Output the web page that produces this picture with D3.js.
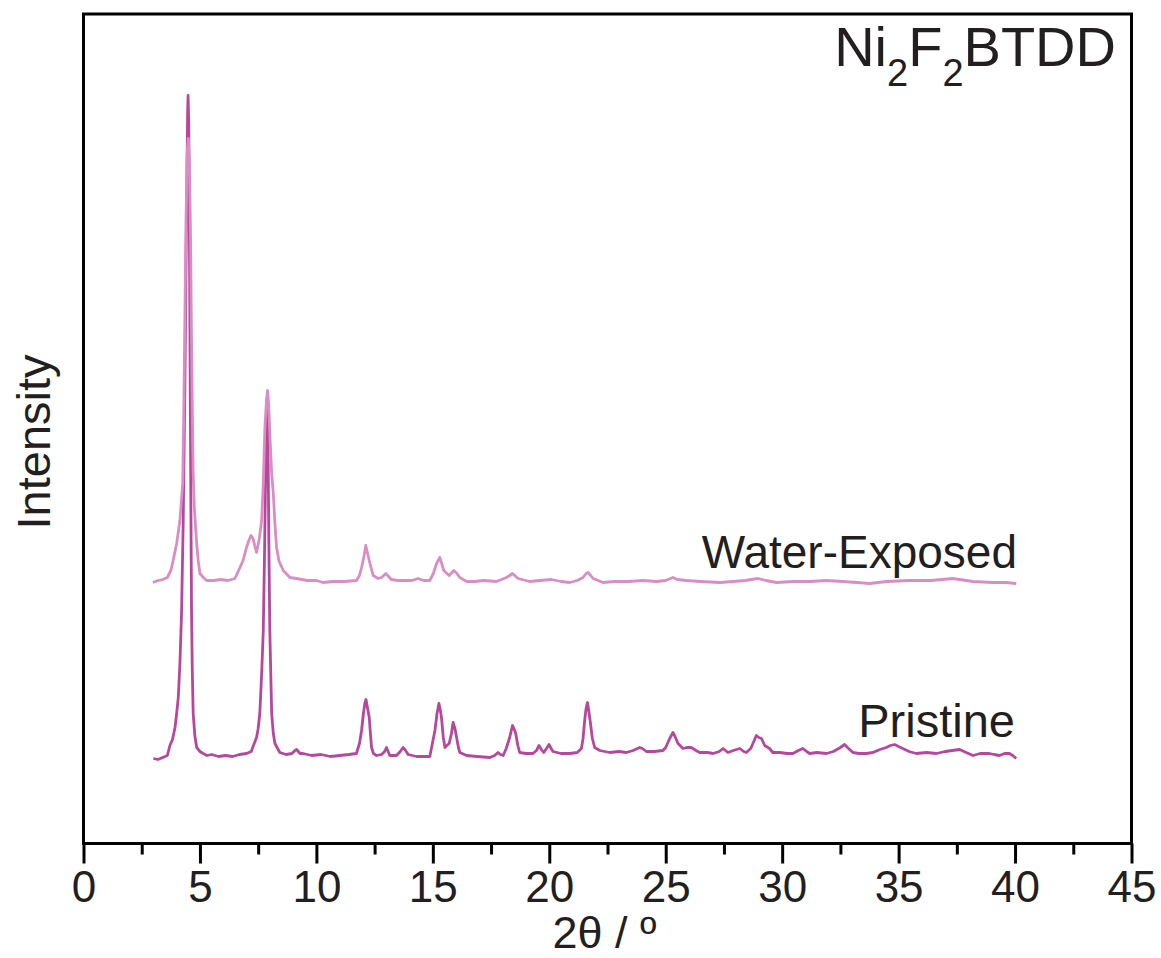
<!DOCTYPE html>
<html>
<head>
<meta charset="utf-8">
<script src="https://cdnjs.cloudflare.com/ajax/libs/d3/7.8.5/d3.min.js"></script>
<style>
  body { margin: 0; background: #fff; }
  text { font-family: "Liberation Sans", Arial, sans-serif; fill: #231f20; }
</style>
</head>
<body>
<svg id="screen" width="1161" height="958"></svg>
<script>
const screenEl = document.querySelector("#screen");

//data (2theta, intensity a.u., already stacked)
const pristine = [
[3.00,85],[3.2,84],[3.4,86],[3.6,88],[3.71,98],[3.82,104],[3.93,116],[4.0,130],[4.07,146],[4.14,180],
[4.21,230],[4.28,320],[4.35,450],[4.42,620],[4.47,730],[4.49,748],[4.52,720],[4.56,560],[4.60,380],[4.64,230],
[4.67,175],[4.71,130],[4.78,108],[4.86,96],[5.0,92],[5.14,90],[5.3,88],[5.5,89],[5.8,87],[6.1,88],
[6.4,87],[6.7,89],[7.0,90],[7.2,92],[7.43,106],[7.5,115],[7.57,130],[7.65,170],[7.72,213],[7.78,300],
[7.84,405],[7.88,445],[7.92,405],[7.96,300],[8.0,213],[8.08,130],[8.15,110],[8.22,100],[8.43,91],[8.7,89],
[8.95,90],[9.08,93],[9.15,94],[9.3,90],[9.43,90],[9.8,88],[10.2,89],[10.6,87],[11.0,88],[11.4,89],
[11.72,90],[11.85,100],[11.94,113],[12.02,130],[12.08,140],[12.13,144],[12.2,135],[12.27,126],[12.32,110],[12.37,96],
[12.45,90],[12.58,88],[12.8,89],[12.93,92],[13.01,96],[13.08,92],[13.15,88],[13.44,88],[13.6,92],[13.72,96],
[13.8,94],[13.94,89],[14.3,87],[14.6,87],[14.87,87],[14.98,100],[15.09,113],[15.18,130],[15.26,140],[15.31,135],
[15.37,126],[15.45,106],[15.52,96],[15.6,98],[15.7,100],[15.8,110],[15.87,121],[15.95,115],[16.02,106],[16.1,96],
[16.16,91],[16.45,88],[16.9,87],[17.45,86],[17.65,88],[17.8,91],[17.9,89],[18.02,88],[18.15,95],[18.3,106],
[18.42,118],[18.5,114],[18.56,110],[18.65,98],[18.73,91],[19.0,90],[19.3,90],[19.45,93],[19.56,98],[19.66,94],
[19.76,91],[19.88,95],[19.99,99],[20.08,95],[20.16,92],[20.5,90],[20.88,90],[21.2,91],[21.38,95],[21.45,105],
[21.52,123],[21.58,135],[21.64,141],[21.7,132],[21.77,120],[21.85,105],[21.95,96],[22.17,93],[22.6,91],[23.0,92],
[23.31,91],[23.6,93],[23.88,96],[24.0,95],[24.17,92],[24.5,92],[24.88,93],[25.0,96],[25.17,105],[25.31,111],
[25.4,107],[25.53,100],[25.74,95],[25.9,96],[26.1,96],[26.3,93],[26.46,91],[26.8,91],[27.03,90],[27.3,92],
[27.46,95],[27.67,91],[27.9,93],[28.18,95],[28.35,92],[28.46,91],[28.65,95],[28.8,103],[28.89,108],[29.0,106],
[29.11,105],[29.25,98],[29.46,95],[29.6,91],[29.9,91],[30.2,90],[30.46,90],[30.7,93],[30.89,95],[31.05,92],
[31.18,90],[31.5,91],[31.9,90],[32.2,92],[32.5,96],[32.68,99],[32.85,95],[33.04,91],[33.3,90],[33.61,90],
[33.9,91],[34.2,94],[34.47,96],[34.65,98],[34.83,99],[35.0,97],[35.18,95],[35.45,92],[35.76,90],[36.2,91],
[36.62,90],[37.0,92],[37.3,93],[37.62,94],[37.9,91],[38.19,88],[38.5,90],[38.9,90],[39.1,89],[39.33,88],
[39.55,90],[39.76,90],[39.9,88],[40.05,85]
];

const waterExposed = [
[2.98,261],[3.2,263],[3.4,264],[3.6,266],[3.75,273],[3.85,283],[4.0,300],[4.14,323],[4.26,360],[4.30,420],
[4.35,520],[4.40,620],[4.45,690],[4.50,705],[4.55,680],[4.60,600],[4.64,500],[4.68,420],[4.71,370],[4.76,335],
[4.86,300],[4.93,282],[5.0,270],[5.15,266],[5.29,263],[5.6,263],[5.9,264],[6.2,263],[6.5,265],[6.72,276],
[6.85,283],[7.0,296],[7.1,303],[7.19,308],[7.28,305],[7.35,298],[7.43,291],[7.55,305],[7.65,323],[7.72,360],
[7.79,416],[7.85,440],[7.90,453],[7.95,440],[8.02,400],[8.08,370],[8.15,350],[8.22,320],[8.29,296],[8.4,282],
[8.58,273],[8.86,266],[9.15,265],[9.6,263],[10.0,263],[10.29,261],[10.7,262],[11.2,262],[11.72,263],[11.85,268],
[11.94,276],[12.05,288],[12.12,298],[12.18,292],[12.3,280],[12.44,268],[12.65,265],[12.8,266],[12.98,270],[13.1,267],
[13.22,264],[13.5,263],[13.87,263],[14.1,263],[14.37,265],[14.6,263],[14.87,263],[15.02,270],[15.16,280],[15.3,286],
[15.38,280],[15.47,273],[15.7,268],[15.9,273],[16.0,271],[16.16,266],[16.45,262],[16.8,262],[17.2,263],[17.73,262],
[17.95,264],[18.16,266],[18.3,268],[18.42,270],[18.66,265],[19.16,262],[19.6,263],[20.09,264],[20.5,262],[20.88,261],
[21.2,263],[21.45,266],[21.58,270],[21.67,271],[21.78,268],[21.88,265],[22.31,261],[22.8,262],[23.4,262],[24.03,263],
[24.6,262],[25.0,263],[25.31,266],[25.5,264],[25.89,263],[26.5,262],[27.32,261],[27.9,262],[28.4,263],[28.96,265],
[29.3,263],[29.75,261],[30.5,262],[31.2,262],[31.9,263],[32.6,262],[33.2,261],[33.75,260],[34.5,262],[35.47,263],
[36.4,263],[37.33,265],[38.2,262],[39.05,261],[39.6,261],[40.05,260]
];

const majorTicks = [0,5,10,15,20,25,30,35,40,45];
const minorTicks = [2.5,7.5,12.5,17.5,22.5,27.5,32.5,37.5,42.5];
const seriesLabels = ["Pristine","Water-Exposed"];

//settings
const plotLeft = 83.5, plotRight = 1131.5, plotTop = 14, plotBottom = 843.5;

var svg = d3.select(screenEl);
var x = d3.scaleLinear().domain([0,45]).range([plotLeft,plotRight]);
var y = d3.scaleLinear().domain([0,829.5]).range([plotBottom,plotTop]);

var line = d3.line().x(d => x(d[0])).y(d => y(d[1]));

svg.append("path").datum(pristine)
.attr("d",line).attr("fill","none")
.attr("stroke","#b6479d").attr("stroke-width",2.8).attr("stroke-linejoin","round");

svg.append("path").datum(waterExposed)
.attr("d",line).attr("fill","none")
.attr("stroke","#da8cc5").attr("stroke-width",2.8).attr("stroke-linejoin","round");

//frame
svg.append("rect")
.attr("x",plotLeft).attr("y",plotTop)
.attr("width",plotRight-plotLeft).attr("height",plotBottom-plotTop)
.attr("fill","none").attr("stroke","#000").attr("stroke-width",3);

//x axis
var majorAxis = svg.append("g").attr("transform","translate(0,"+plotBottom+")")
.call(d3.axisBottom(x).tickValues(majorTicks).tickSize(20).tickPadding(7).tickFormat(d3.format("d")));
var minorAxis = svg.append("g").attr("transform","translate(0,"+plotBottom+")")
.call(d3.axisBottom(x).tickValues(minorTicks).tickSize(11).tickFormat(""));

svg.selectAll(".domain").remove();
svg.selectAll(".tick line").attr("stroke","#000").attr("stroke-width",3);
majorAxis.selectAll(".tick text")
.style("font-size","44px").attr("fill","#000");

//titles
svg.append("text")
.attr("x",(plotLeft+plotRight)/2 - 3).attr("y",948)
.attr("text-anchor","middle").style("font-size","45px")
.text("2θ / º");

svg.append("text")
.attr("transform","translate(50,442) rotate(-90)")
.attr("text-anchor","middle").style("font-size","47px")
.text("Intensity");

var title = svg.append("text")
.attr("x",1116).attr("y",66)
.attr("text-anchor","end").style("font-size","56px");
title.append("tspan").text("Ni");
title.append("tspan").attr("dy",20).style("font-size","38px").text("2");
title.append("tspan").attr("dy",-20).text("F");
title.append("tspan").attr("dy",20).style("font-size","38px").text("2");
title.append("tspan").attr("dy",-20).text("BTDD");

//series labels
svg.append("text").attr("x",1017).attr("y",568)
.attr("text-anchor","end").style("font-size","46px").text(seriesLabels[1]);
svg.append("text").attr("x",1015).attr("y",737)
.attr("text-anchor","end").style("font-size","47px").text(seriesLabels[0]);
</script>
</body>
</html>
